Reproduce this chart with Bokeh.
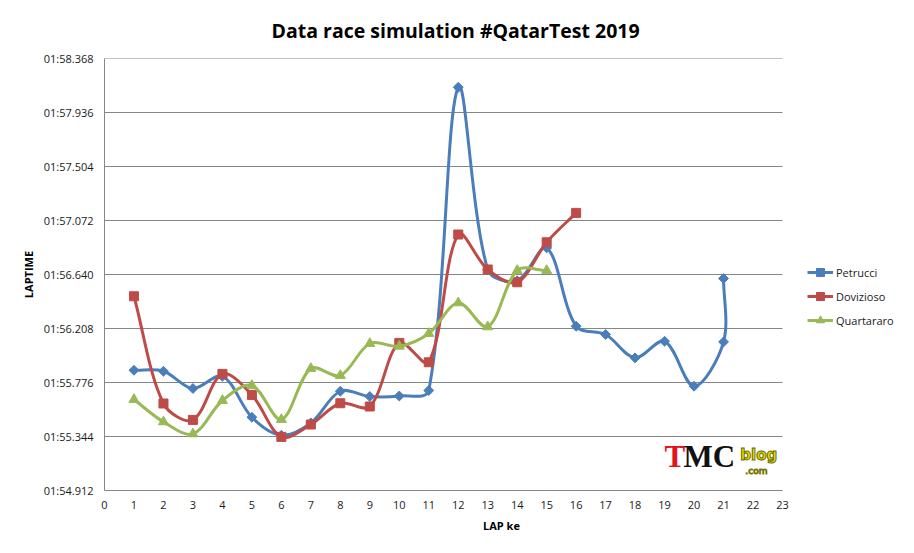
import numpy as np
from bokeh.plotting import figure
from bokeh.models import (FixedTicker, CustomJSTickFormatter, Legend, LegendItem,
                          Label, ColumnDataSource)
from bokeh.embed import file_html
from bokeh.resources import INLINE

title_text = "Data race simulation #QatarTest 2019"
x_label = "LAP ke"
y_label = "LAPTIME"

# lap times in seconds (01:55.874 -> 115.874)
petrucci_lap = [1, 2, 3, 4, 5, 6, 7, 8, 9, 10, 11, 12, 13, 14, 15, 16, 17, 18, 19, 20, 21, 21]
petrucci_time = [115.874, 115.866, 115.728, 115.826, 115.498, 115.354, 115.453, 115.706,
                 115.664, 115.668, 115.712, 118.138, 116.680, 116.590, 116.853, 116.226,
                 116.160, 115.973, 116.106, 115.746, 116.101, 116.608]

dovizioso_lap = [1, 2, 3, 4, 5, 6, 7, 8, 9, 10, 11, 12, 13, 14, 15, 16]
dovizioso_time = [116.466, 115.608, 115.477, 115.845, 115.677, 115.341, 115.440, 115.610,
                  115.584, 116.093, 115.938, 116.960, 116.680, 116.578, 116.898, 117.133]

quartararo_lap = [1, 2, 3, 4, 5, 6, 7, 8, 9, 10, 11, 12, 13, 14, 15]
quartararo_time = [115.640, 115.461, 115.365, 115.632, 115.752, 115.480, 115.888, 115.832,
                   116.088, 116.066, 116.168, 116.413, 116.221, 116.672, 116.672]

y_ticks = [114.912, 115.344, 115.776, 116.208, 116.640, 117.072, 117.504, 117.936, 118.368]
x_ticks = list(range(0, 24))

series = [
    ("Petrucci", petrucci_lap, petrucci_time, "#4a7ebb", "square", 7, np.pi / 4),
    ("Dovizioso", dovizioso_lap, dovizioso_time, "#be4b48", "square", 9, 0.0),
    ("Quartararo", quartararo_lap, quartararo_time, "#98b954", "triangle", 10, 0.0),
]

W, H = 898, 537
BL, BT, BB = 104, 57, 47
AXIS_W = 678                      # pixel width of the 0..23 axis
FH = H - BT - BB
SX = AXIS_W / (x_ticks[-1] - x_ticks[0])      # px per lap
SY = FH / (y_ticks[-1] - y_ticks[0])          # px per second
x_end = x_ticks[0] + (W - BL) / SX            # frame extends under the legend


def smooth_segments(xs, ys):
    """Bezier control points for a smoothed line (tangent arms proportional
    to neighbouring segment lengths, measured in screen pixels)."""
    x = np.asarray(xs, float) * SX
    y = np.asarray(ys, float) * SY
    n = len(x)
    fwd = np.zeros((n, 2))
    bwd = np.zeros((n, 2))
    for i in range(n):
        a = max(i - 1, 0)
        b = min(i + 1, n - 1)
        tx, ty = x[b] - x[a], y[b] - y[a]
        d0 = np.hypot(x[i] - x[a], y[i] - y[a])
        d1 = np.hypot(x[b] - x[i], y[b] - y[i])
        tot = d0 + d1 if d0 + d1 > 0 else 1.0
        fwd[i] = (tx * d1 / tot / 3.0, ty * d1 / tot / 3.0)
        bwd[i] = (tx * d0 / tot / 3.0, ty * d0 / tot / 3.0)
    d = dict(x0=[], y0=[], x1=[], y1=[], cx0=[], cy0=[], cx1=[], cy1=[])
    for i in range(n - 1):
        d["x0"].append(x[i] / SX); d["y0"].append(y[i] / SY)
        d["x1"].append(x[i + 1] / SX); d["y1"].append(y[i + 1] / SY)
        d["cx0"].append((x[i] + fwd[i][0]) / SX); d["cy0"].append((y[i] + fwd[i][1]) / SY)
        d["cx1"].append((x[i + 1] - bwd[i + 1][0]) / SX)
        d["cy1"].append((y[i + 1] - bwd[i + 1][1]) / SY)
    return d


p = figure(width=W, height=H, output_backend="svg", toolbar_location=None,
           x_range=(x_ticks[0], x_end), y_range=(y_ticks[0], y_ticks[-1]),
           min_border_left=BL, min_border_right=0, min_border_top=BT, min_border_bottom=BB)

p.title.text = title_text
p.title.align = "left"
p.title.offset = 167
p.title.text_font = "Open Sans"
p.title.text_font_size = "19.5px"
p.title.text_font_style = "bold"
p.title.text_color = "#000000"
p.title.standoff = 29

p.outline_line_color = None
p.xgrid.grid_line_color = None
p.ygrid.grid_line_color = None
p.background_fill_color = "white"
p.border_fill_color = "white"

# horizontal gridlines spanning only the 0..23 axis
p.segment(x0=[x_ticks[0]] * len(y_ticks), x1=[x_ticks[-1]] * len(y_ticks),
          y0=y_ticks, y1=y_ticks, line_color="#868686", line_width=1)

p.yaxis.ticker = FixedTicker(ticks=y_ticks)
p.yaxis.formatter = CustomJSTickFormatter(code="""
const m = Math.floor(tick / 60 + 1e-9);
const s = tick - 60 * m;
let ss = s.toFixed(3);
if (s < 10) { ss = '0' + ss; }
return (m < 10 ? '0' + m : '' + m) + ':' + ss;
""")
p.xaxis.ticker = FixedTicker(ticks=x_ticks)
p.xaxis.bounds = (x_ticks[0], x_ticks[-1])

for ax in (p.xaxis, p.yaxis):
    ax.axis_line_color = "#868686"
    ax.axis_line_width = 1
    ax.major_tick_line_color = None
    ax.minor_tick_line_color = None
    ax.major_tick_out = 0
    ax.major_tick_in = 0
    ax.major_label_text_font = "Open Sans"
    ax.major_label_text_font_size = "11px"
    ax.major_label_text_color = "#1a1a1a"
    ax.axis_label_text_font = "Open Sans"
    ax.axis_label_text_font_size = "11px"
    ax.axis_label_text_font_style = "bold"
    ax.axis_label_text_color = "#000000"

p.xaxis.axis_label = x_label
p.yaxis.axis_label = y_label
p.xaxis.major_label_standoff = 10
p.xaxis.axis_label_standoff = 6
p.yaxis.major_label_standoff = 11
p.yaxis.axis_label_standoff = 5

items = []
for name, lx, ly, color, marker, size, angle in series:
    src = ColumnDataSource(smooth_segments(lx, ly))
    b = p.bezier(x0="x0", y0="y0", x1="x1", y1="y1", cx0="cx0", cy0="cy0",
                 cx1="cx1", cy1="cy1", source=src, line_color=color, line_width=3)
    s = p.scatter(lx, ly, marker=marker, size=size, angle=angle,
                  fill_color=color, line_color=color)
    items.append(LegendItem(label=name, renderers=[b, s]))

legend = Legend(items=items, location=(703, 160), orientation="vertical",
                glyph_width=26, glyph_height=20, label_height=20, spacing=4,
                padding=0, margin=0, label_standoff=3,
                label_text_font="Open Sans", label_text_font_size="11px",
                label_text_color="#1a1a1a", border_line_color=None,
                background_fill_alpha=0)
p.add_layout(legend, "center")

# watermark logo
p.add_layout(Label(x=19.0, y=115.048, text="T", text_font="Liberation Serif",
                   text_font_size="31px", text_font_style="bold", text_color="#e3141b"))
p.add_layout(Label(x=19.64, y=115.048, text="MC", text_font="Liberation Serif",
                   text_font_size="31px", text_font_style="bold", text_color="#111111"))
p.add_layout(Label(x=21.57, y=115.128, text="blog", text_font="DejaVu Sans",
                   text_font_size="15px", text_font_style="bold", text_color="#e8e000",
                   text_outline_color="#6b6b00"))
p.add_layout(Label(x=21.74, y=115.032, text=".com", text_font="DejaVu Sans",
                   text_font_size="9px", text_color="#d8d000",
                   text_outline_color="#777700"))

open("out.html", "w").write(file_html(p, INLINE))
